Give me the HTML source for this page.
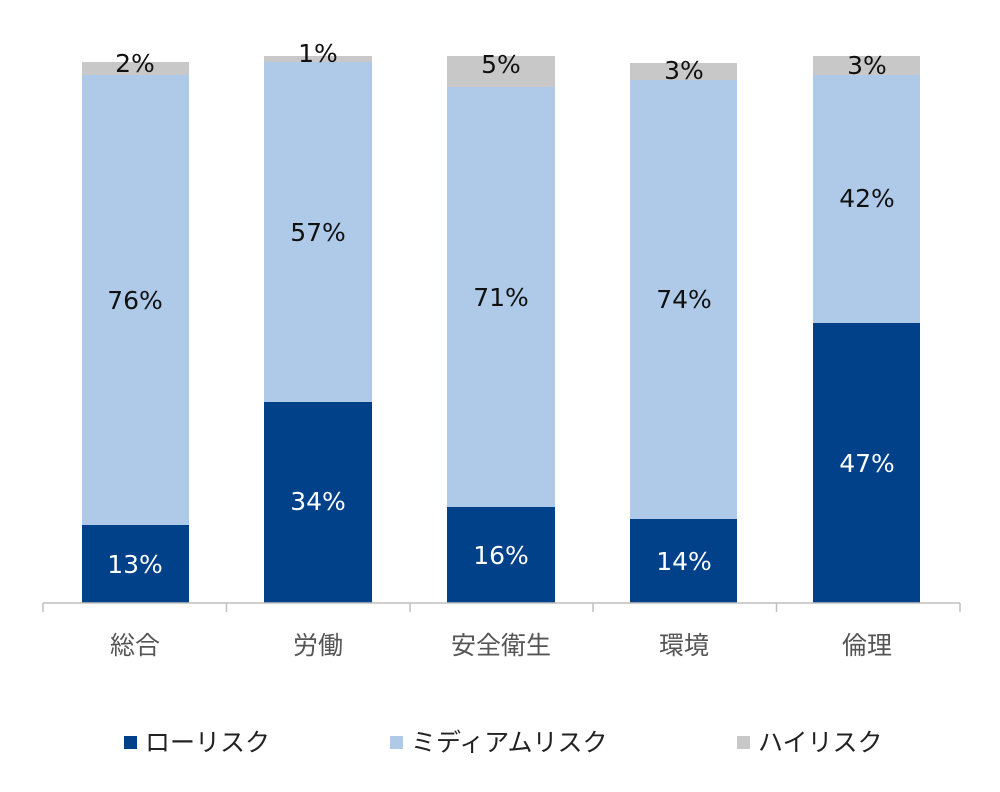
<!DOCTYPE html>
<html><head><meta charset="utf-8"><style>
body{margin:0;background:#fff;width:1000px;height:787px;overflow:hidden}
svg text{font-family:"DejaVu Sans","Noto Sans CJK JP",sans-serif}
svg .j{font-family:"Liberation Sans","Noto Sans CJK JP",sans-serif}
</style></head><body>
<svg width="1000" height="787" xmlns="http://www.w3.org/2000/svg">
<g font-size="25" text-anchor="middle">
<rect x="82" y="62" width="107" height="13" fill="#c8c8c8"/>
<rect x="82" y="75" width="107" height="450" fill="#aecae8"/>
<rect x="82" y="525" width="107" height="78" fill="#004189"/>
<text x="135" y="72" fill="#111">2%</text>
<text x="135" y="309" fill="#111">76%</text>
<text x="135" y="573" fill="#fff">13%</text>
<rect x="264" y="56" width="108" height="6" fill="#c8c8c8"/>
<rect x="264" y="62" width="108" height="340" fill="#aecae8"/>
<rect x="264" y="402" width="108" height="201" fill="#004189"/>
<text x="318" y="62" fill="#111">1%</text>
<text x="318" y="241" fill="#111">57%</text>
<text x="318" y="510" fill="#fff">34%</text>
<rect x="447" y="56" width="108" height="31" fill="#c8c8c8"/>
<rect x="447" y="87" width="108" height="420" fill="#aecae8"/>
<rect x="447" y="507" width="108" height="96" fill="#004189"/>
<text x="501" y="73" fill="#111">5%</text>
<text x="501" y="306" fill="#111">71%</text>
<text x="501" y="564" fill="#fff">16%</text>
<rect x="630" y="63" width="107" height="17" fill="#c8c8c8"/>
<rect x="630" y="80" width="107" height="439" fill="#aecae8"/>
<rect x="630" y="519" width="107" height="84" fill="#004189"/>
<text x="684" y="79" fill="#111">3%</text>
<text x="684" y="308" fill="#111">74%</text>
<text x="684" y="570" fill="#fff">14%</text>
<rect x="813" y="56" width="107" height="19" fill="#c8c8c8"/>
<rect x="813" y="75" width="107" height="248" fill="#aecae8"/>
<rect x="813" y="323" width="107" height="280" fill="#004189"/>
<text x="867" y="74" fill="#111">3%</text>
<text x="867" y="207" fill="#111">42%</text>
<text x="867" y="472" fill="#fff">47%</text>
</g>
<g stroke="#bfbfbf" stroke-width="1.5" fill="none">
<line x1="43" y1="603" x2="960" y2="603"/>
<line x1="43" y1="603" x2="43" y2="612"/>
<line x1="226.5" y1="603" x2="226.5" y2="612"/>
<line x1="410" y1="603" x2="410" y2="612"/>
<line x1="593" y1="603" x2="593" y2="612"/>
<line x1="776.5" y1="603" x2="776.5" y2="612"/>
<line x1="960" y1="603" x2="960" y2="612"/>
</g>
<g font-size="25" fill="#555" text-anchor="middle" class="j">
<text class="j" x="135" y="654">総合</text>
<text class="j" x="318" y="654">労働</text>
<text class="j" x="501" y="654">安全衛生</text>
<text class="j" x="684" y="654">環境</text>
<text class="j" x="867" y="654">倫理</text>
</g>
<g font-size="25" fill="#222">
<rect x="124" y="736" width="13" height="13" fill="#004189"/>
<text class="j" x="145" y="751">ローリスク</text>
<rect x="390" y="736" width="13" height="13" fill="#aecae8"/>
<text class="j" x="411" y="751">ミディアムリスク</text>
<rect x="737" y="736" width="13" height="13" fill="#c8c8c8"/>
<text class="j" x="758" y="751">ハイリスク</text>
</g>
</svg>
</body></html>
